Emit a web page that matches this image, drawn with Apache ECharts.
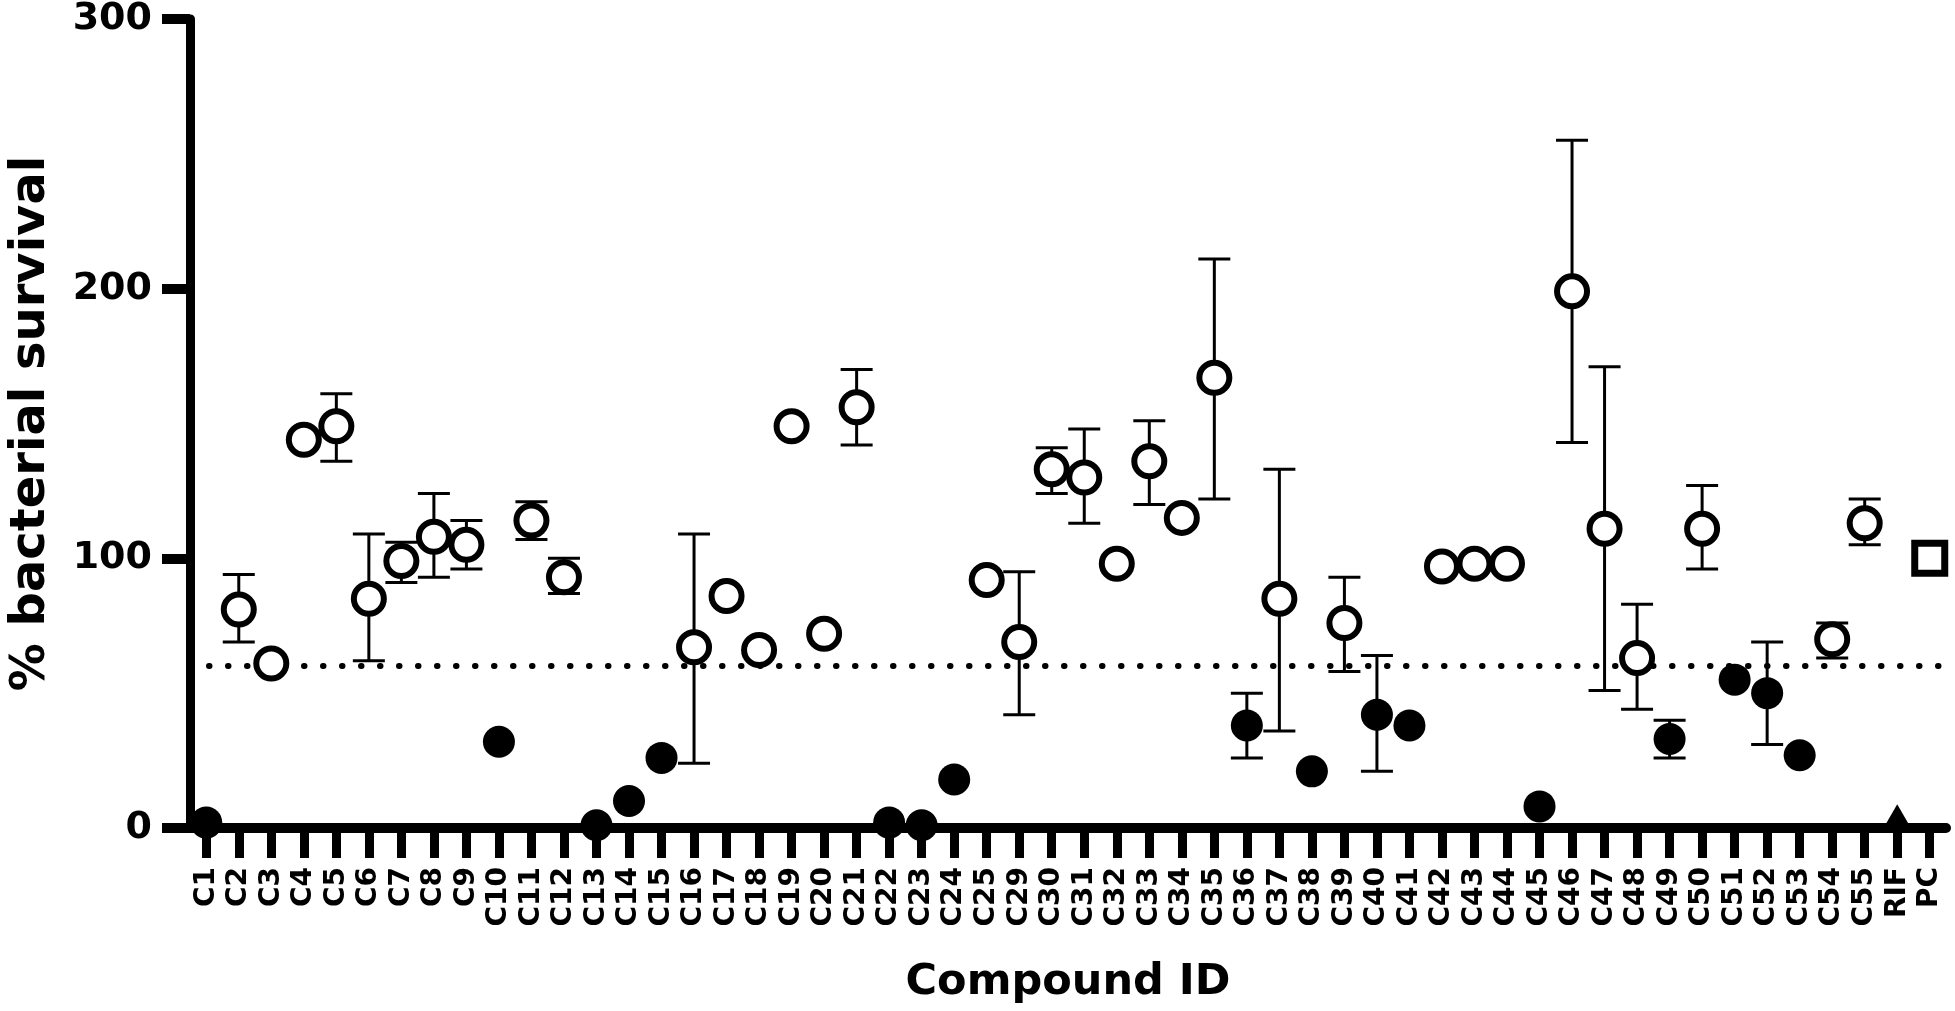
<!DOCTYPE html>
<html>
<head>
<meta charset="utf-8">
<script src="https://cdn.jsdelivr.net/npm/echarts@6/dist/echarts.min.js"></script>
<style>
  html, body { margin: 0; padding: 0; background: #fff; }
  #chart { width: 1955px; height: 1011px; }
</style>
</head>
<body>
<div id="chart"></div>
<script>
// compound IDs along the x axis
var categories = ['C1','C2','C3','C4','C5','C6','C7','C8','C9','C10','C11','C12','C13','C14','C15','C16','C17','C18','C19','C20','C21','C22','C23','C24','C25',
  'C29','C30','C31','C32','C33','C34','C35','C36','C37','C38','C39','C40','C41','C42','C43','C44','C45','C46','C47','C48','C49','C50','C51','C52','C53','C54','C55','RIF','PC'];

// % bacterial survival (mean)
var survival = [2,81,61,144,149,85,99,108,105,32,114,93,1,10,26,67,86,66,149,72,156,2,1,18,92,
  69,133,130,98,136,115,167,38,85,21,76,42,38,97,98,98,8,199,111,63,33,111,55,50,27,70,113,4,100];

// error bar ends (null = no bar)
var errLow = [null,69,null,null,136,62,91,93,96,null,107,87,null,null,null,24,null,null,null,null,142,null,null,null,null,
  42,124,113,null,120,null,122,26,36,null,58,21,null,null,null,null,null,143,51,44,26,96,null,31,null,63,105,null,null];
var errHigh = [null,94,null,null,161,109,106,124,114,null,121,100,null,null,null,109,null,null,null,null,170,null,null,null,null,
  95,141,148,null,151,null,211,50,133,null,93,64,null,null,null,null,null,255,171,83,40,127,null,69,null,76,122,null,null];

// marker group: o = open (inactive), f = filled (active), rif / pc = controls
var markerGroup = ['f','o','o','o','o','o','o','o','o','f','o','o','f','f','f','o','o','o','o','o','o','f','f','f','o',
  'o','o','o','o','o','o','o','f','o','f','o','f','f','o','o','o','f','o','o','o','f','o','f','f','f','o','o','rif','pc'];

var cutoff = 60;

var FONT = 'DejaVu Sans';

function pick(group) {
  var out = [];
  for (var i = 0; i < categories.length; i++) {
    if (markerGroup[i] === group) out.push([categories[i], survival[i]]);
  }
  return out;
}

var errData = [];
for (var i = 0; i < categories.length; i++) {
  if (errLow[i] != null && errHigh[i] != null) errData.push([i, errLow[i], errHigh[i]]);
}

var dom = document.getElementById('chart');
var myChart = echarts.init(dom, null, { renderer: 'canvas' });

var option = {
  animation: false,
  backgroundColor: '#fff',
  grid: { left: 178, right: 9, top: 17, bottom: 183 },
  xAxis: {
    type: 'category',
    data: categories,
    name: 'Compound ID',
    nameLocation: 'middle',
    nameGap: 133,
    nameTextStyle: { fontFamily: FONT, fontWeight: 'bold', fontSize: 43, color: '#000' },
    axisLine: { lineStyle: { color: '#000', width: 10 } },
    axisTick: { show: true, interval: 0, alignWithLabel: true, length: 30, lineStyle: { color: '#000', width: 9 } },
    axisLabel: {
      interval: 0, rotate: 90, margin: 39,
      fontFamily: FONT, fontWeight: 'bold', fontSize: 28, color: '#000'
    },
    splitLine: { show: false }
  },
  yAxis: {
    type: 'value',
    min: 0, max: 300, interval: 100,
    name: '% bacterial survival',
    nameLocation: 'middle',
    nameGap: 134,
    nameRotate: 90,
    nameTextStyle: { fontFamily: FONT, fontWeight: 'bold', fontSize: 48, color: '#000' },
    axisLine: { show: true, lineStyle: { color: '#000', width: 9 } },
    axisTick: { show: true, length: 28, lineStyle: { color: '#000', width: 10 } },
    axisLabel: { margin: 38, fontFamily: FONT, fontWeight: 'bold', fontSize: 38, color: '#000' },
    splitLine: { show: false }
  },
  series: [
    {
      type: 'custom',
      name: 'error',
      z: 2,
      renderItem: function (params, api) {
        var top = api.coord([api.value(0), api.value(2)]);
        var bot = api.coord([api.value(0), api.value(1)]);
        var hw = 16;
        var st = { stroke: '#000', lineWidth: 3 };
        return {
          type: 'group',
          children: [
            { type: 'line', shape: { x1: top[0], y1: top[1], x2: bot[0], y2: bot[1] }, style: st },
            { type: 'line', shape: { x1: top[0] - hw, y1: top[1], x2: top[0] + hw, y2: top[1] }, style: st },
            { type: 'line', shape: { x1: bot[0] - hw, y1: bot[1], x2: bot[0] + hw, y2: bot[1] }, style: st }
          ]
        };
      },
      encode: { x: 0, y: [1, 2] },
      data: errData
    },
    {
      type: 'scatter',
      name: 'open',
      z: 5,
      symbol: 'circle',
      symbolSize: 30,
      itemStyle: { color: '#fff', borderColor: '#000', borderWidth: 6, opacity: 1 },
      data: pick('o'),
      markLine: {
        silent: true,
        symbol: 'none',
        label: { show: false },
        lineStyle: { color: '#000', width: 6, type: [0.5, 18.5], cap: 'round' },
        data: [{ yAxis: cutoff }]
      }
    },
    {
      type: 'scatter',
      name: 'filled',
      z: 5,
      symbol: 'circle',
      symbolSize: 32,
      itemStyle: { color: '#000', opacity: 1 },
      data: pick('f')
    },
    {
      type: 'scatter',
      name: 'RIF',
      z: 5,
      symbol: 'triangle',
      symbolSize: [30, 26],
      itemStyle: { color: '#000', opacity: 1 },
      data: pick('rif')
    },
    {
      type: 'scatter',
      name: 'PC',
      z: 5,
      symbol: 'rect',
      symbolSize: 30,
      itemStyle: { color: '#fff', borderColor: '#000', borderWidth: 7, opacity: 1 },
      data: pick('pc')
    }
  ]
};

if (option && typeof option === 'object') {
  myChart.setOption(option, true);
}
</script>
</body>
</html>
